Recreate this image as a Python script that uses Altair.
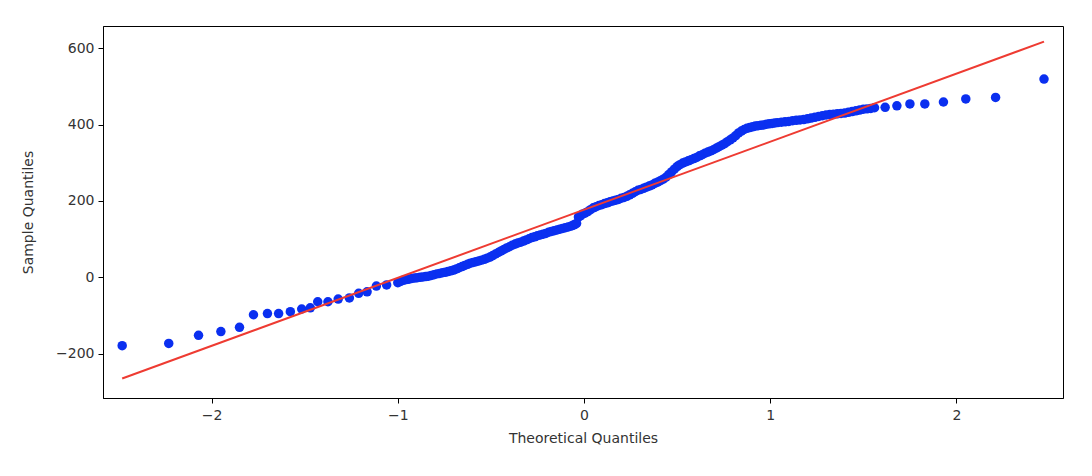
import altair as alt
import pandas as pd

# Theoretical quantiles (x) and sample quantiles (y)
theo = [
    -2.48, -2.23, -2.07, -1.95, -1.85, -1.775, -1.70, -1.64, -1.577, -1.516,
    -1.47, -1.43, -1.375, -1.32, -1.26, -1.21, -1.165, -1.115, -1.06,
    -1.00, -0.97, -0.94, -0.91, -0.88, -0.85, -0.82, -0.79, -0.76, -0.73,
    -0.70, -0.67, -0.64, -0.61, -0.58, -0.55, -0.52, -0.49, -0.46, -0.43,
    -0.40, -0.37, -0.34, -0.31, -0.28, -0.25, -0.22, -0.19, -0.16, -0.13,
    -0.10, -0.07, -0.05, -0.03, -0.01, 0.02, 0.05, 0.08, 0.11, 0.14,
    0.17, 0.20, 0.23, 0.26, 0.29, 0.32, 0.35, 0.38, 0.41, 0.44,
    0.47, 0.50, 0.53, 0.56, 0.59, 0.62, 0.65, 0.68, 0.71, 0.74,
    0.77, 0.80, 0.83, 0.86, 0.89, 0.92, 0.95, 0.98, 1.01, 1.04,
    1.08, 1.12, 1.16, 1.20, 1.24, 1.28, 1.32, 1.36, 1.40, 1.44,
    1.48, 1.52, 1.56, 1.617, 1.68, 1.75, 1.83, 1.93, 2.05, 2.21, 2.47,
]
sample = [
    -179, -173, -152, -142, -131, -98, -95, -95, -90, -83,
    -80, -64, -64, -57, -54, -42, -38, -23, -20,
    -14, -8, -5, -2, 0, 2, 5, 9, 12, 15,
    19, 25, 31, 37, 41, 45, 50, 57, 65, 73,
    80, 87, 92, 98, 104, 109, 113, 118, 122, 126,
    130, 134, 138, 158, 165, 172, 182, 188, 193, 198,
    202, 207, 212, 220, 228, 233, 239, 246, 253, 262,
    276, 290, 299, 305, 311, 318, 325, 331, 338, 346,
    355, 365, 378, 387, 392, 396, 398, 401, 403, 405,
    407, 410, 412, 415, 419, 423, 426, 428, 430, 434,
    438, 441, 444, 445, 449, 454, 454, 459, 467, 471, 519,
]

# Further points inside the dense central band
theo_band = [
    -0.985, -0.955, -0.925, -0.895, -0.865, -0.835, -0.805, -0.775, -0.745, -0.715,
    -0.685, -0.655, -0.625, -0.595, -0.565, -0.535, -0.505, -0.475, -0.445, -0.415,
    -0.385, -0.355, -0.325, -0.295, -0.265, -0.235, -0.205, -0.175, -0.145, -0.115,
    -0.085, -0.06, -0.04, -0.02, 0.005, 0.035, 0.065, 0.095, 0.125, 0.155,
    0.185, 0.215, 0.245, 0.275, 0.305, 0.335, 0.365, 0.395, 0.425, 0.455,
    0.485, 0.515, 0.545, 0.575, 0.605, 0.635, 0.665, 0.695, 0.725, 0.755,
    0.785, 0.815, 0.845, 0.875, 0.905, 0.935, 0.965, 0.995, 1.025, 1.06,
    1.10, 1.14, 1.18, 1.22, 1.26, 1.30, 1.34, 1.38, 1.42, 1.46,
    1.50, 1.54,
]
sample_band = [
    -11, -6, -3, -1, 1, 3, 7, 10, 13, 17,
    22, 28, 34, 39, 43, 47, 53, 61, 69, 77,
    84, 90, 95, 101, 106, 111, 115, 120, 124, 128,
    132, 136, 141, 161, 168, 177, 185, 190, 195, 200,
    204, 209, 216, 224, 230, 236, 242, 249, 257, 269,
    283, 295, 302, 308, 314, 321, 328, 334, 342, 350,
    360, 371, 383, 390, 394, 397, 399, 402, 404, 406,
    408, 411, 413, 417, 421, 425, 427, 429, 432, 436,
    440, 442,
]

# Reference line end points
line_x = [-2.48, 2.47]
line_y = [-265, 617]

x_ticks = [-2, -1, 0, 1, 2]
y_ticks = [-200, 0, 200, 400, 600]

pts = pd.DataFrame({"theo": theo + theo_band, "sample": sample + sample_band})
ln = pd.DataFrame({"theo": line_x, "sample": line_y})

x_scale = alt.Scale(domain=[-2.583, 2.572], nice=False, zero=False)
y_scale = alt.Scale(domain=[-316, 658], nice=False, zero=False)

x_axis = alt.Axis(
    title="Theoretical Quantiles", values=x_ticks, format="d", grid=False,
    tickColor="black", domainColor="black", tickSize=5,
    labelFontSize=14, titleFontSize=14, labelFont="DejaVu Sans",
    titleFont="DejaVu Sans", labelColor="#333333", titleColor="#333333",
    titleFontWeight="normal", labelPadding=5, titlePadding=9,
)
y_axis = alt.Axis(
    title="Sample Quantiles", values=y_ticks, format="d", grid=False,
    tickColor="black", domainColor="black", tickSize=5,
    labelFontSize=14, titleFontSize=14, labelFont="DejaVu Sans",
    titleFont="DejaVu Sans", labelColor="#333333", titleColor="#333333",
    titleFontWeight="normal", labelPadding=4, titleX=-68,
)

points = alt.Chart(pts).mark_circle(size=90, color="#0a2ff0", opacity=1).encode(
    x=alt.X("theo:Q", scale=x_scale, axis=x_axis),
    y=alt.Y("sample:Q", scale=y_scale, axis=y_axis),
)

line = alt.Chart(ln).mark_line(color="#ee3b32", strokeWidth=2).encode(
    x=alt.X("theo:Q", scale=x_scale),
    y=alt.Y("sample:Q", scale=y_scale),
)

chart = (
    alt.layer(points, line)
    .properties(
        width=960,
        height=372,
        autosize="none",
        padding={"left": 103, "top": 26, "right": 29, "bottom": 78},
        background="white",
    )
    .configure_view(stroke="black", strokeWidth=1)
)

chart.save("out.html", embed_options={"renderer": "svg", "actions": False})
